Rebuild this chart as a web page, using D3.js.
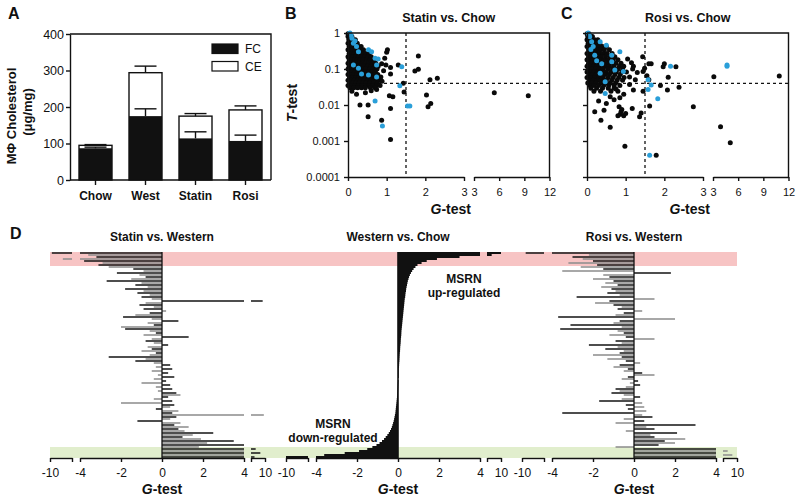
<!DOCTYPE html>
<html><head><meta charset="utf-8">
<script src="https://cdn.jsdelivr.net/npm/d3@7"></script>
<style>
body{margin:0;background:#fff}
svg{display:block}
text{font-family:"Liberation Sans",Arial,Helvetica,sans-serif;fill:#111}
</style>
</head><body>
<svg id="c" width="800" height="500"></svg>
<script>
// ---------------- DATA ----------------
// Panel A
const cats = ["Chow","West","Statin","Rosi"];
const fcVals = [87,175,114,107];
const fcErr = [3,20,18,16];
const totalVals = [95,294,175,192];
const totalErr = [2,18,7,11];
const aTicks = [0,100,200,300,400];
const legendLabels = ["FC","CE"];

// Panels B/C axes
const tTicks = [1,0.1,0.01,0.001,0.0001];
const tTickLabels = ["1","0.1","0.01","0.001","0.0001"];
const gTicksLow = [0,1,2,3];
const gTicksHigh = [3,6,9,12];
const gCut = 1.5, tCut = 0.04;

// Panel B (Statin vs. Chow): dense cluster, rows of T with G values
const bMassT = [0.95,0.8,0.65,0.52,0.42,0.34,0.27,0.22,0.18,0.145,0.12,0.1,0.083,0.07,0.058,0.049,0.041,0.035,0.03];
const bMassG = [
 [0.0,0.04],
 [0.0,0.05,0.1],
 [0.02,0.08,0.14,0.19],
 [0.0,0.06,0.12,0.18,0.24],
 [0.03,0.09,0.15,0.21,0.28,0.34],
 [0.0,0.06,0.12,0.18,0.25,0.32,0.4],
 [0.03,0.09,0.16,0.22,0.3,0.38,0.46,0.55],
 [0.0,0.06,0.13,0.2,0.27,0.35,0.43,0.52,0.6],
 [0.03,0.1,0.17,0.24,0.31,0.39,0.48,0.57,0.66],
 [0.0,0.07,0.14,0.21,0.29,0.37,0.45,0.55,0.63,0.72],
 [0.03,0.1,0.17,0.25,0.33,0.42,0.5,0.6,0.7,0.78],
 [0.0,0.07,0.14,0.22,0.3,0.4,0.47,0.56,0.65,0.75],
 [0.03,0.1,0.18,0.26,0.35,0.44,0.53,0.62,0.71],
 [0.0,0.07,0.15,0.23,0.31,0.39,0.48,0.58,0.68,0.77],
 [0.04,0.11,0.2,0.28,0.36,0.45,0.54,0.63,0.73],
 [0.0,0.08,0.16,0.25,0.33,0.42,0.51,0.6,0.7,0.8],
 [0.04,0.12,0.2,0.29,0.38,0.47,0.56,0.66,0.76],
 [0.0,0.09,0.18,0.27,0.36,0.46,0.55,0.64,0.74],
 [0.05,0.15,0.25,0.35,0.45,0.58,0.7]
];
const bBlack = [
 [1.0,0.29],[1.82,0.23],[1.73,0.088],[1.82,0.098],[2.12,0.05],[2.31,0.055],[2.03,0.019],[2.07,0.009],
 [2.14,0.011],[5.42,0.022],[9.47,0.018],[1.1,0.0011],[0.87,0.0038],[0.52,0.0047],[0.31,0.01],[0.52,0.01],
 [1.07,0.018],[1.16,0.017],[1.1,0.008],[1.45,0.023],[1.43,0.04],[1.3,0.13],[1.1,0.073],[0.98,0.13],
 [0.87,0.14],[0.74,0.027],[0.22,0.02],[0.83,0.035],[0.88,0.046],[1.02,0.34],[1.1,0.11],[0.92,0.09],
 [0.85,0.06],[0.95,0.2],[0.6,0.025],[0.45,0.022],[0.1,0.024]
];
const bBlue = [
 [0.05,1.0],[0.1,0.71],[0.14,0.52],[0.22,0.42],[0.27,0.3],[0.53,0.34],[0.61,0.3],[0.7,0.2],
 [0.78,0.19],[0.74,0.13],[0.35,0.073],[0.53,0.068],[0.74,0.06],[0.27,0.105],[0.14,0.13],[1.39,0.116],
 [1.34,0.034],[1.54,0.0094],[1.6,0.0094],[0.7,0.013],[0.89,0.0026],[0.08,0.85],[0.18,0.6]
];

// Panel C (Rosi vs. Chow)
const cMassT = [0.95,0.8,0.65,0.52,0.42,0.34,0.27,0.22,0.18,0.145,0.12,0.1,0.083,0.07,0.058,0.049,0.041,0.035,0.029,0.024];
const cMassG = [
 [0.0,0.05],
 [0.02,0.08,0.14],
 [0.0,0.06,0.12,0.2,0.28],
 [0.03,0.1,0.17,0.25,0.33],
 [0.0,0.07,0.14,0.22,0.3,0.4,0.5],
 [0.04,0.11,0.18,0.26,0.35,0.45,0.58],
 [0.0,0.07,0.15,0.23,0.32,0.42,0.52,0.65],
 [0.04,0.11,0.19,0.28,0.37,0.48,0.6,0.72],
 [0.0,0.08,0.16,0.25,0.34,0.44,0.55,0.68,0.8],
 [0.04,0.12,0.21,0.3,0.4,0.51,0.62,0.75,0.88],
 [0.0,0.08,0.17,0.26,0.36,0.47,0.58,0.7,0.84,0.95],
 [0.04,0.13,0.22,0.32,0.42,0.54,0.66,0.8,0.92],
 [0.0,0.09,0.18,0.28,0.38,0.5,0.62,0.76,0.9,1.02],
 [0.05,0.14,0.24,0.34,0.46,0.58,0.72,0.86],
 [0.0,0.1,0.2,0.3,0.42,0.55,0.68,0.82,0.96],
 [0.06,0.16,0.27,0.38,0.5,0.64,0.78,0.92],
 [0.02,0.12,0.23,0.35,0.47,0.6,0.74],
 [0.07,0.18,0.3,0.43,0.56,0.7,0.85],
 [0.1,0.25,0.4,0.55,0.7],
 [0.18,0.35,0.62,0.8]
];
const cBlack = [
 [1.44,0.22],[1.66,0.14],[1.6,0.14],[1.49,0.105],[1.97,0.116],[2.0,0.14],[2.3,0.116],[2.1,0.059],
 [2.08,0.026],[2.38,0.031],[2.75,0.009],[3.1,0.061],[3.9,0.0025],[5.06,0.00089],[10.9,0.064],[1.79,0.0004],
 [0.98,0.00072],[0.6,0.0024],[0.36,0.0038],[0.2,0.0065],[0.44,0.0072],[0.83,0.009],[0.9,0.0075],[0.86,0.0055],
 [0.95,0.005],[0.8,0.005],[1.0,0.0058],[0.88,0.0065],[1.17,0.008],[1.36,0.0047],[1.4,0.006],[1.62,0.0094],
 [1.2,0.026],[1.1,0.037],[1.45,0.024],[1.9,0.035],[0.7,0.014],[0.6,0.017],[0.85,0.016],[0.95,0.02],
 [1.15,0.15],[1.2,0.12],[1.3,0.08],[1.1,0.06],[1.25,0.05],[0.75,0.028],[0.5,0.011],[0.3,0.013],
 [1.55,0.065],[1.45,0.085],[1.6,0.05],[1.05,0.19],[1.18,0.1]
];
const cBlue = [
 [0.03,1.0],[0.07,0.79],[0.12,0.57],[0.16,0.42],[0.34,0.57],[0.5,0.46],[0.85,0.3],[0.64,0.24],
 [0.64,0.16],[0.2,0.24],[0.38,0.14],[0.72,0.094],[0.94,0.085],[0.34,0.076],[0.47,0.044],[0.47,0.021],
 [1.58,0.05],[1.66,0.036],[1.58,0.027],[1.83,0.015],[1.62,0.0004],[2.16,0.12],[4.67,0.13],[4.67,0.12],
 [0.1,0.35],[0.25,0.17],[0.05,0.9]
];

// Panel D: G-test per gene (rows top to bottom, sorted by Western vs. Chow)
const statinVsWestern = [
 -9.5,-3.6,-3.2,-6.5,-3.8,-2.9,-3.1,-2.6,-1.4,-0.9,-2.2,-1.1,-0.8,-1.5,-2.7,-1.0,-1.3,-0.7,-1.8,-0.9,
 -1.2,-0.6,-1.0,-0.5,9.0,-0.8,-1.1,-0.4,-0.9,0.2,-0.6,-1.3,-1.9,-0.5,0.8,-0.7,-0.4,-2.0,-1.8,-0.6,
 -0.3,-0.9,1.3,-0.5,-0.8,-0.4,0.3,-0.7,-0.5,-1.0,-0.3,-0.6,-2.6,-0.8,-1.3,-0.4,0.4,-0.3,0.5,-0.5,
 0.3,-0.2,0.6,-0.4,0.2,-1.0,0.4,-0.3,0.5,-0.2,0.7,0.9,0.3,-0.4,0.5,-2.0,0.6,0.4,-0.3,0.8,
 0.5,9.5,0.7,0.4,-1.2,0.9,0.6,1.3,0.8,1.1,2.5,1.5,1.0,1.9,3.5,2.2,4.0,1.8,6.0,4.0,
 8.0,4.0,5.5
];
const westernVsChow = [
 10,6,3.0,1.9,1.4,1.15,0.95,0.85,0.76,0.69,0.63,0.58,0.54,0.51,0.48,0.46,0.44,0.42,0.40,0.39,
 0.37,0.36,0.35,0.33,0.32,0.31,0.30,0.29,0.28,0.27,0.26,0.25,0.24,0.23,0.22,0.21,0.20,0.19,0.18,0.17,
 0.165,0.16,0.15,0.14,0.135,0.13,0.12,0.11,0.105,0.10,0.09,0.085,0.08,0.075,0.07,0.06,0.055,0.05,0.04,0.035,
 0.03,0.02,0.01,0.0,-0.01,-0.015,-0.02,-0.025,-0.03,-0.035,-0.04,-0.045,-0.05,-0.06,-0.07,-0.08,-0.09,-0.10,-0.11,-0.12,
 -0.13,-0.15,-0.17,-0.19,-0.21,-0.24,-0.27,-0.30,-0.34,-0.39,-0.45,-0.52,-0.60,-0.68,-0.78,-0.90,-1.05,-1.25,-1.5,-1.9,
 -2.6,-3.6,-10
];
const rosiVsWestern = [
 -9.0,-2.2,-3.0,-2.5,-2.0,-3.2,-1.8,-2.6,-1.5,-3.5,1.8,-1.5,-1.2,-2.0,-1.0,-1.4,-0.8,-1.6,-1.1,-0.9,
 -1.3,-0.7,-2.8,1.0,-1.2,-1.9,-1.0,-0.6,-0.8,0.4,-0.5,-0.9,-3.7,2.0,-0.7,-1.0,-3.1,-0.6,-3.6,-0.8,
 -0.5,-1.2,-0.4,1.0,-0.9,-0.6,-2.2,-0.8,-1.4,-0.5,-0.7,-2.0,-0.6,-1.3,-0.4,0.3,-0.7,-1.0,-0.3,-0.5,
 0.4,1.0,-0.3,-0.6,0.2,-0.2,0.3,-0.4,-0.9,-0.7,-1.1,-0.5,0.3,-0.6,-1.7,0.4,-0.4,0.5,-0.3,0.6,
 -3.5,0.4,0.9,-0.5,0.5,-0.9,3.0,0.6,1.0,-0.4,2.1,0.8,1.0,2.5,1.5,2.0,1.2,-0.9,4.0,6.0,
 4.0,8.0,4.0
];
const dTicksMain = [-4,-2,0,2,4];

// ---------------- DRAW ----------------
const svg = d3.select("#c");
const SW = 1.4;
const BLUE = "#2a9fd9";

function label(t, x, y, size, opts={}) {
  const el = svg.append("text").attr("x",x).attr("y",y).attr("font-size",size)
    .attr("font-weight", opts.bold===false ? "normal" : "bold")
    .attr("text-anchor", opts.anchor || "start");
  el.text(t);
  return el;
}
function gTestLabel(cx, y, size) {
  const t = svg.append("text").attr("x",cx).attr("y",y).attr("font-size",size)
    .attr("font-weight","bold").attr("text-anchor","middle");
  t.append("tspan").attr("font-style","italic").text("G");
  t.append("tspan").text("-test");
}
function styleAxis(g, fs) {
  g.selectAll("path.domain").attr("stroke","#111").attr("stroke-width",SW);
  g.selectAll(".tick line").attr("stroke","#111").attr("stroke-width",SW);
  g.selectAll(".tick text").attr("font-size",fs).attr("fill","#111")
    .attr("font-family","'Liberation Sans',Arial,sans-serif");
}

// Panel letters
label("A", 8, 18.5, 16);
label("B", 285, 18.5, 16);
label("C", 561, 18.5, 16);
label("D", 10, 238.5, 16);

// ---- Panel A ----
(function(){
  const L=70, R=271, T=34, B=180;
  const y = d3.scaleLinear([0,400],[B,T]);
  const x = d3.scaleBand(cats,[70.5,270.5]).paddingInner(0.34).paddingOuter(0.17);
  const g = svg.append("g");
  g.selectAll("rect.ce").data(cats).join("rect")
    .attr("x",d=>x(d)).attr("width",x.bandwidth())
    .attr("y",(d,i)=>y(totalVals[i])).attr("height",(d,i)=>y(0)-y(totalVals[i]))
    .attr("fill","#fff").attr("stroke","#111").attr("stroke-width",SW);
  g.selectAll("rect.fc").data(cats).join("rect")
    .attr("x",d=>x(d)).attr("width",x.bandwidth())
    .attr("y",(d,i)=>y(fcVals[i])).attr("height",(d,i)=>y(0)-y(fcVals[i]))
    .attr("fill","#111");
  const cap = 11;
  cats.forEach((c,i)=>{
    const cx = x(c)+x.bandwidth()/2;
    [[fcVals[i],fcErr[i]],[totalVals[i],totalErr[i]]].forEach(([v,e])=>{
      g.append("line").attr("x1",cx).attr("x2",cx).attr("y1",y(v)).attr("y2",y(v+e))
        .attr("stroke","#111").attr("stroke-width",SW);
      g.append("line").attr("x1",cx-cap).attr("x2",cx+cap).attr("y1",y(v+e)).attr("y2",y(v+e))
        .attr("stroke","#111").attr("stroke-width",SW);
    });
  });
  const ya = svg.append("g").attr("transform",`translate(${L},0)`)
    .call(d3.axisLeft(y).tickValues(aTicks).tickSize(4).tickSizeOuter(0).tickPadding(2));
  styleAxis(ya, 12.5);
  const xa = svg.append("g").attr("transform",`translate(0,${B})`)
    .call(d3.axisBottom(x).tickSize(5).tickSizeOuter(0).tickPadding(6));
  styleAxis(xa, 12);
  xa.selectAll(".tick text").attr("font-weight","bold");
  xa.select("path.domain").attr("d",`M${L},0H${R}`);
  svg.append("path").attr("d",`M${L},${T}H${R}V${B}`).attr("fill","none").attr("stroke","#111").attr("stroke-width",SW);
  svg.append("text").attr("transform","translate(16,116) rotate(-90)").attr("text-anchor","middle")
    .attr("font-size",13).attr("font-weight","bold").text("M\u03A6 Cholesterol");
  svg.append("text").attr("transform","translate(32,112) rotate(-90)").attr("text-anchor","middle")
    .attr("font-size",13).attr("font-weight","bold").text("(\u03BCg/mg)");
  const lg = svg.append("g");
  legendLabels.forEach((t,i)=>{
    lg.append("rect").attr("x",212).attr("y",44+i*17.5).attr("width",26).attr("height",9.5)
      .attr("fill", i===0 ? "#111" : "#fff").attr("stroke","#111").attr("stroke-width",1.2);
    lg.append("text").attr("x",245).attr("y",53+i*17.5).attr("font-size",12).text(t);
  });
})();

// ---- Panels B & C ----
function scatter(x0, massT, massG, black, blue, title, showYLabels) {
  const T=33, B=177, W=201.5;
  const xs1 = d3.scaleLinear([0,3],[x0, x0+116]);
  const xs2 = d3.scaleLinear([3,12],[x0+126, x0+W]);
  const gx = v => v<=3 ? xs1(v) : xs2(v);
  const y = d3.scaleLog([1e-4,1],[B,T]);
  const g = svg.append("g");
  g.append("line").attr("x1",gx(gCut)).attr("x2",gx(gCut)).attr("y1",T).attr("y2",B)
    .attr("stroke","#111").attr("stroke-width",1.3).attr("stroke-dasharray","3,3");
  g.append("line").attr("x1",x0).attr("x2",x0+W).attr("y1",y(tCut)).attr("y2",y(tCut))
    .attr("stroke","#111").attr("stroke-width",1.3).attr("stroke-dasharray","3,3");
  const pts = [];
  massT.forEach((t,i)=>massG[i].forEach(v=>pts.push([v,t])));
  black.forEach(p=>pts.push(p));
  g.selectAll("circle.k").data(pts).join("circle")
    .attr("cx",d=>gx(d[0])).attr("cy",d=>y(d[1])).attr("r",2.5).attr("fill","#0a0a0a");
  g.selectAll("circle.b").data(blue).join("circle")
    .attr("cx",d=>gx(d[0])).attr("cy",d=>y(d[1])).attr("r",2.5).attr("fill",BLUE);
  const a1 = svg.append("g").attr("transform",`translate(0,${B})`)
    .call(d3.axisBottom(xs1).tickValues(gTicksLow).tickSize(4).tickSizeOuter(0).tickPadding(7).tickFormat(d3.format("d")));
  const a2 = svg.append("g").attr("transform",`translate(0,${B})`)
    .call(d3.axisBottom(xs2).tickValues(gTicksHigh).tickSize(4).tickSizeOuter(0).tickPadding(7).tickFormat(d3.format("d")));
  styleAxis(a1, 11); styleAxis(a2, 11);
  const ya = svg.append("g").attr("transform",`translate(${x0},0)`)
    .call(d3.axisLeft(y).tickValues(tTicks).tickSize(4).tickSizeOuter(0).tickPadding(4)
      .tickFormat((d,i)=> showYLabels ? tTickLabels[i] : ""));
  styleAxis(ya, 11);
  svg.append("path").attr("d",`M${x0},${T}H${x0+W}V${B}`).attr("fill","none").attr("stroke","#111").attr("stroke-width",SW);
  label(title, x0+W/2, 21.5, 12.5, {anchor:"middle"});
  gTestLabel(x0+W/2+2, 214, 14);
}
scatter(348, bMassT, bMassG, bBlack, bBlue, "Statin vs. Chow", true);
scatter(587, cMassT, cMassG, cBlack, cBlue, "Rosi vs. Chow", false);
{
  const t = svg.append("text").attr("transform","translate(297,103) rotate(-90)")
    .attr("text-anchor","middle").attr("font-size",14).attr("font-weight","bold");
  t.append("tspan").attr("font-style","italic").text("T");
  t.append("tspan").text("-test");
}

// ---- Panel D ----
const nRows = westernVsChow.length;
const rowY = d3.scaleBand(d3.range(nRows), [252, 458]).padding(0);
svg.append("rect").attr("x",50).attr("y",252).attr("width",687).attr("height",14).attr("fill","#f7c4c4");
svg.append("rect").attr("x",50).attr("y",447).attr("width",687).attr("height",11).attr("fill","#e1eecd");

function dPanel(x0, vals, title, side) {
  const segs = [
    d3.scaleLinear([-10,-4],[x0-112,x0-90]),
    d3.scaleLinear([-4,4],[x0-82,x0+82]),
    d3.scaleLinear([4,10],[x0+89,x0+103])
  ];
  const g = svg.append("g");
  const bh = rowY.bandwidth();
  vals.forEach((v,i)=>{
    const lo=Math.min(v,0), hi=Math.max(v,0);
    segs.forEach(s=>{
      const [d0,d1]=s.domain();
      const a=Math.max(lo,d0), b=Math.min(hi,d1);
      if(b>a){
        g.append("rect").attr("x",s(a)).attr("width",Math.max(0.8,s(b)-s(a)))
          .attr("y",rowY(i)+(side?0.25:0)).attr("height",side?1.5:bh)
          .attr("fill", side ? (i%2 ? "#8c8c8c" : "#151515") : "#111");
      }
    });
  });
  g.append("line").attr("x1",x0).attr("x2",x0).attr("y1",252).attr("y2",458)
    .attr("stroke","#111").attr("stroke-width",side?1.3:1.6);
  const fmt = d=>String(d);
  const a0 = svg.append("g").attr("transform","translate(0,458)")
    .call(d3.axisBottom(segs[0]).tickValues([-10,-4]).tickSize(4).tickSizeOuter(0).tickPadding(6)
      .tickFormat(d=>d===-10?"-10":""));
  const a1 = svg.append("g").attr("transform","translate(0,458)")
    .call(d3.axisBottom(segs[1]).tickValues(dTicksMain).tickSize(4).tickSizeOuter(0).tickPadding(6).tickFormat(fmt));
  const a2 = svg.append("g").attr("transform","translate(0,458)")
    .call(d3.axisBottom(segs[2]).tickValues([4,10]).tickSize(4).tickSizeOuter(0).tickPadding(6)
      .tickFormat(d=>d===10?"10":""));
  [a0,a1,a2].forEach(a=>styleAxis(a,12));
  label(title, x0, 240.5, 12, {anchor:"middle"});
  gTestLabel(x0, 494, 14);
}
dPanel(162, statinVsWestern, "Statin vs. Western", true);
dPanel(398, westernVsChow, "Western vs. Chow", false);
dPanel(634, rosiVsWestern, "Rosi vs. Western", true);

label("MSRN", 464, 283, 12, {anchor:"middle"});
label("up-regulated", 464, 297, 12, {anchor:"middle"});
label("MSRN", 333, 428, 12, {anchor:"middle"});
label("down-regulated", 333, 442, 12, {anchor:"middle"});
</script>
</body></html>
